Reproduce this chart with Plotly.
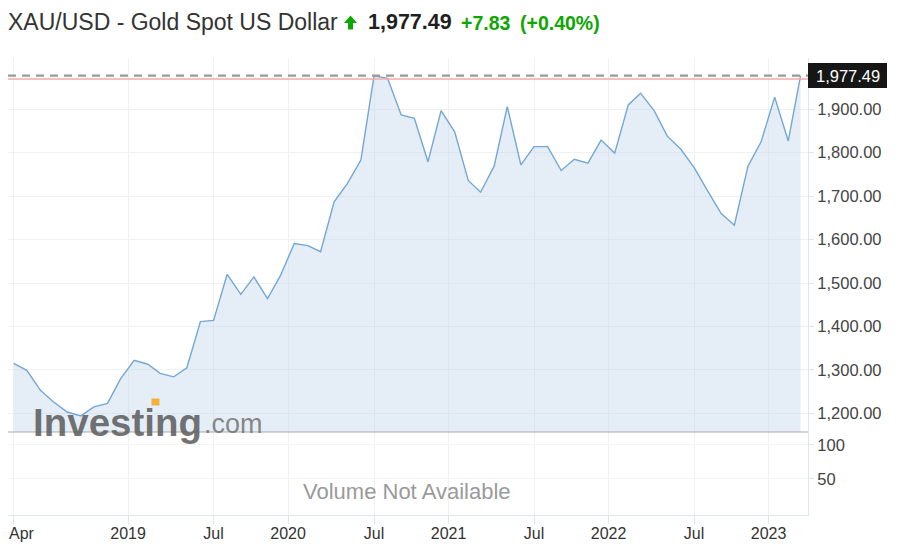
import plotly.graph_objects as go

FONT = "Arial, Liberation Sans, sans-serif"
GREEN = "#0ea600"

# monthly closes (point sits mid-month)
close_2018 = [1315, 1299, 1253, 1226, 1203, 1194, 1215, 1223, 1280]  # Apr..Dec
close_2019 = [1322, 1313, 1292, 1284, 1305, 1411, 1414, 1520, 1474, 1514, 1464, 1518]
close_2020 = [1591, 1586, 1572, 1687, 1729, 1783, 1977, 1971, 1887, 1879, 1779, 1897]
close_2021 = [1848, 1736, 1709, 1769, 1906, 1772, 1814, 1814, 1759, 1785, 1776, 1829]
close_2022 = [1799, 1910, 1937, 1897, 1838, 1808, 1766, 1712, 1660, 1633, 1769, 1825]
close_2023 = [1928, 1827, 1977.49]  # Jan..Mar (last = live quote)

last_price = 1977.49
prev_close = 1969.66
change_abs = "+7.83"
change_pct = "(+0.40%)"

x_tick_dates = ["2018-04-15", "2019-01-01", "2019-07-15", "2020-01-01", "2020-07-15",
                "2021-01-01", "2021-07-15", "2022-01-01", "2022-07-15", "2023-01-01"]
x_tick_text = ["Apr", "2019", "Jul", "2020", "Jul", "2021", "Jul", "2022", "Jul", "2023"]
price_ticks = [1200, 1300, 1400, 1500, 1600, 1700, 1800, 1900]
volume_ticks = [50, 100]

# the page body adds an 8px margin, so the figure is drawn 8px in and 8px down
PAGE_OFF = 8
W, H = 904 - PAGE_OFF, 550 - PAGE_OFF
# plot area in page pixels: x 8..808, y 58..515
L, R, T, B = 8, 808, 58, 515
VOL_SPLIT = 432


def px_x(px):
    return (px - L) / (R - L)


def px_y(py):
    return (B - py) / (B - T)


def month_dates():
    dates, values = [], []
    series = [(2018, 4, close_2018), (2019, 1, close_2019), (2020, 1, close_2020),
              (2021, 1, close_2021), (2022, 1, close_2022), (2023, 1, close_2023)]
    for year, first, vals in series:
        for i, v in enumerate(vals):
            dates.append(f"{year}-{first + i:02d}-15")
            values.append(v)
    return dates, values


dates, closes = month_dates()

fig = go.Figure()
fig.add_trace(go.Scatter(
    x=dates, y=closes, mode="lines", fill="tozeroy",
    line=dict(color="#72a7d6", width=1.4),
    fillcolor="rgba(180,205,228,0.35)",
    hoverinfo="x+y", showlegend=False,
))
# empty trace so the volume pane exists
fig.add_trace(go.Scatter(x=[], y=[], yaxis="y2", showlegend=False))

split = px_y(VOL_SPLIT)

# first label sits right on the left edge; draw it as a note so it stays whole
axis_tick_text = [""] + x_tick_text[1:]

fig.update_layout(
    width=W, height=H,
    margin=dict(l=L - PAGE_OFF, r=W - (R - PAGE_OFF), t=T - PAGE_OFF, b=H - (B - PAGE_OFF)),
    paper_bgcolor="white", plot_bgcolor="white",
    font=dict(family=FONT, color="#333333"),
    xaxis=dict(
        type="date", range=["2018-04-02", "2023-04-01"], anchor="y2", automargin=False,
        tickmode="array", tickvals=x_tick_dates, ticktext=axis_tick_text,
        tickfont=dict(size=16, color="#333333"),
        ticks="outside", ticklen=8, tickcolor="#dfe5ec",
        ticklabeloverflow="allow", ticklabelstandoff=-4,
        showgrid=True, gridcolor="#f0f1f3",
        showline=True, linecolor="#dfe5ec", zeroline=False,
    ),
    yaxis=dict(
        domain=[split, 1], range=[1157, 2018], side="right", anchor="x", automargin=False,
        tickmode="array", tickvals=price_ticks, tickformat=",.2f",
        tickfont=dict(size=16.5, color="#444444"),
        ticks="outside", ticklen=5, tickcolor="#dfe5ec",
        showgrid=True, gridcolor="#f0f1f3",
        showline=True, linecolor="#dfe5ec", zeroline=False,
    ),
    yaxis2=dict(
        domain=[0, split], range=[-3, 119], side="right", anchor="x", automargin=False,
        tickmode="array", tickvals=volume_ticks,
        tickfont=dict(size=16.5, color="#444444"),
        ticks="outside", ticklen=5, tickcolor="#dfe5ec",
        showgrid=True, gridcolor="#f3f4f6",
        showline=True, linecolor="#dfe5ec", zeroline=False,
    ),
)

shapes = [
    # pane separator
    dict(type="line", xref="paper", yref="paper", x0=0, x1=1, y0=split, y1=split,
         line=dict(color="#a9a9a9", width=1)),
    # previous close
    dict(type="line", xref="paper", yref="y", x0=0, x1=1, y0=prev_close, y1=prev_close,
         line=dict(color="#f5a9a9", width=1.5)),
    # last price
    dict(type="line", xref="paper", yref="y", x0=0, x1=1, y0=last_price, y1=last_price,
         line=dict(color="#999999", width=2.2, dash="8px,6px")),
    # last price label box
    dict(type="rect", xref="paper", yref="y", x0=px_x(808), x1=px_x(887),
         ysizemode="pixel", yanchor=last_price, y0=-12.5, y1=12.5,
         fillcolor="#161616", line=dict(width=0)),
]

# green up arrow in header
arrow_pts = [(348, 29.5), (348, 23), (344, 23), (350.5, 15.5), (357, 23), (353, 23), (353, 29.5)]
arrow_path = "M " + " L ".join(f"{px_x(a):.5f},{px_y(b):.5f}" for a, b in arrow_pts) + " Z"
shapes.append(dict(type="path", xref="paper", yref="paper", path=arrow_path,
                   fillcolor=GREEN, line=dict(width=0)))
fig.update_layout(shapes=shapes)


def note(text, x, y, size, color, xanchor="left", bold=False, yref="paper", **kw):
    fig.add_annotation(
        text=f"<b>{text}</b>" if bold else text,
        x=x, y=y, xref="paper", yref=yref, xanchor=xanchor, yanchor="middle",
        showarrow=False, font=dict(family=FONT, size=size, color=color), **kw,
    )


# header
note("XAU/USD - Gold Spot US Dollar", px_x(6), px_y(22), 23, "#333333")
note(f"{last_price:,.2f}", px_x(366), px_y(22), 21.5, "#1f1f1f", bold=True)
note(change_abs, px_x(459), px_y(23), 19.5, GREEN, bold=True)
note(change_pct, px_x(518), px_y(23), 19.5, GREEN, bold=True)

# last price label text
note(f"{last_price:,.2f}", px_x(847.5), last_price, 16.5, "white", xanchor="center", yref="y")

# first x label, kept inside the page
note(x_tick_text[0], px_x(7), px_y(533), 16, "#333333")

# watermark
note("Investing", px_x(31), px_y(422), 38.5, "rgba(95,95,95,0.88)", bold=True)
note(".com", px_x(202), px_y(424), 27, "rgba(110,110,110,0.82)")
fig.add_annotation(text=" ", x=px_x(151), y=px_y(406), xref="paper", yref="paper",
                   showarrow=False, width=7, height=6, bgcolor="#f3b13a", borderpad=0)

# volume pane message
note("Volume Not Available", px_x(407), px_y(491), 22, "#9a9a9a", xanchor="center")

fig.write_html("out.html")
